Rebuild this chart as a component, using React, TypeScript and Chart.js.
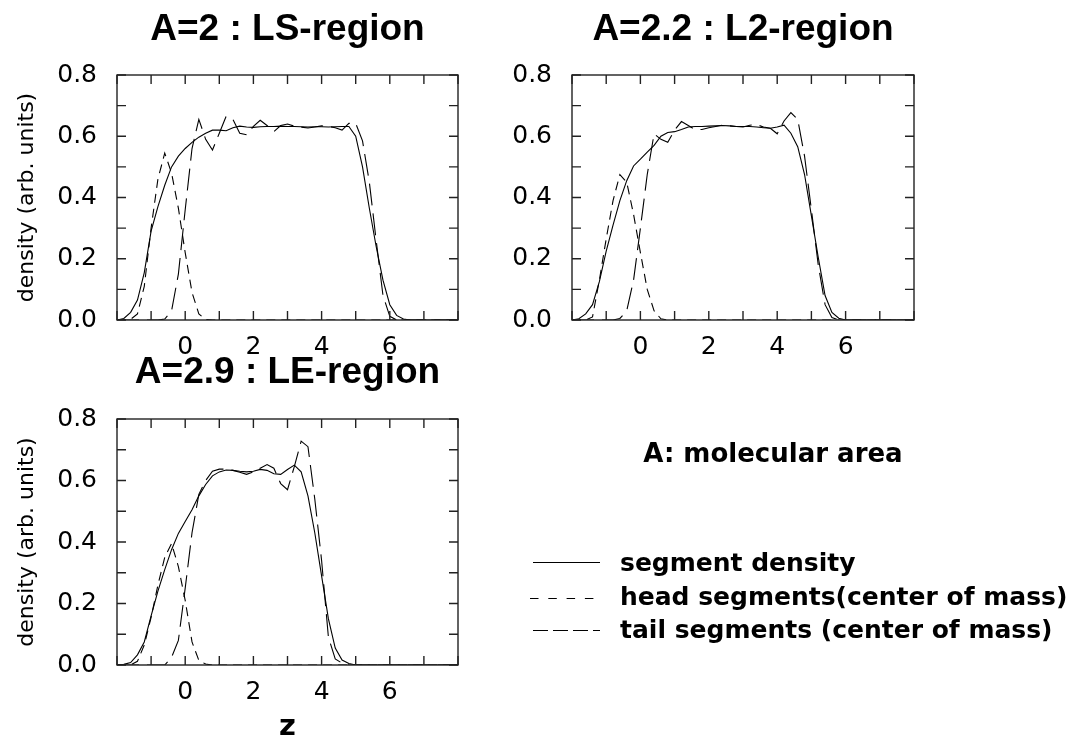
import React, { useEffect, useRef } from 'react';
import { Chart, registerables } from 'chart.js';

Chart.register(...registerables);

// z positions (shared by all curves)
const Z = [
  -2, -1.8, -1.6, -1.4, -1.2, -1, -0.8, -0.6, -0.4, -0.2,
  0, 0.2, 0.4, 0.6, 0.8, 1, 1.2, 1.4, 1.6, 1.8,
  2, 2.2, 2.4, 2.6, 2.8, 3, 3.2, 3.4, 3.6, 3.8,
  4, 4.2, 4.4, 4.6, 4.8, 5, 5.2, 5.4, 5.6, 5.8,
  6, 6.2, 6.4, 6.6, 6.8, 7, 7.2, 7.4, 7.6, 7.8,
  8,
];

// A=2 : LS-region
const SEG_LS = [
  0, 0.005, 0.025, 0.065, 0.155, 0.29, 0.37, 0.44, 0.5, 0.535,
  0.56, 0.58, 0.597, 0.61, 0.62, 0.62, 0.618, 0.628, 0.633, 0.63,
  0.629, 0.631, 0.632, 0.632, 0.633, 0.632, 0.632, 0.631, 0.63, 0.631,
  0.631, 0.63, 0.631, 0.632, 0.632, 0.6, 0.5, 0.365, 0.24, 0.13,
  0.05, 0.015, 0.003, 0, 0, 0, 0, 0, 0, 0,
  0,
];
const HEAD_LS = [
  0, 0, 0.002, 0.02, 0.11, 0.3, 0.46, 0.545, 0.48, 0.365,
  0.22, 0.09, 0.02, 0.002, 0, 0, 0, 0, 0, 0,
  0, 0, 0, 0, 0, 0, 0, 0, 0, 0,
  0, 0, 0, 0, 0, 0, 0, 0, 0, 0,
  0, 0, 0, 0, 0, 0, 0, 0, 0, 0,
  0,
];
const TAIL_LS = [
  0, 0, 0, 0, 0, 0, 0, 0.003, 0.03, 0.15,
  0.36, 0.56, 0.655, 0.59, 0.555, 0.61, 0.665, 0.655, 0.61, 0.605,
  0.632, 0.652, 0.635, 0.615, 0.635, 0.64, 0.633, 0.63, 0.627, 0.63,
  0.634, 0.632, 0.628, 0.62, 0.642, 0.642, 0.585, 0.45, 0.26, 0.08,
  0.012, 0, 0, 0, 0, 0, 0, 0, 0, 0,
  0,
];

// A=2.2 : L2-region
const SEG_L2 = [
  0, 0.004, 0.02, 0.05, 0.125, 0.225, 0.31, 0.39, 0.455, 0.503,
  0.525, 0.548, 0.57, 0.6, 0.612, 0.615, 0.622, 0.63, 0.632, 0.632,
  0.633, 0.634, 0.635, 0.634, 0.632, 0.632, 0.632, 0.63, 0.628, 0.626,
  0.63, 0.636, 0.61, 0.566, 0.475, 0.34, 0.205, 0.08, 0.025, 0.006,
  0, 0, 0, 0, 0, 0, 0, 0, 0, 0,
  0,
];
const HEAD_L2 = [
  0, 0, 0, 0.01, 0.13, 0.265, 0.39, 0.475, 0.45, 0.345,
  0.22, 0.1, 0.03, 0.004, 0, 0, 0, 0, 0, 0,
  0, 0, 0, 0, 0, 0, 0, 0, 0, 0,
  0, 0, 0, 0, 0, 0, 0, 0, 0, 0,
  0, 0, 0, 0, 0, 0, 0, 0, 0, 0,
  0,
];
const TAIL_L2 = [
  0, 0, 0, 0, 0, 0, 0, 0.005, 0.03, 0.13,
  0.3, 0.475, 0.608, 0.59, 0.58, 0.62, 0.648, 0.635, 0.622, 0.622,
  0.628, 0.632, 0.636, 0.634, 0.632, 0.63, 0.636, 0.638, 0.63, 0.626,
  0.608, 0.65, 0.677, 0.655, 0.535, 0.36, 0.18, 0.05, 0.008, 0,
  0, 0, 0, 0, 0, 0, 0, 0, 0, 0,
  0,
];

// A=2.9 : LE-region
const SEG_LE = [
  0, 0.002, 0.008, 0.033, 0.075, 0.16, 0.24, 0.31, 0.375, 0.428,
  0.467, 0.505, 0.55, 0.587, 0.615, 0.628, 0.634, 0.633, 0.63, 0.628,
  0.63, 0.636, 0.633, 0.622, 0.62, 0.636, 0.65, 0.628, 0.55, 0.43,
  0.29, 0.15, 0.055, 0.016, 0.005, 0, 0, 0, 0, 0,
  0, 0, 0, 0, 0, 0, 0, 0, 0, 0,
  0,
];
const HEAD_LE = [
  0, 0, 0, 0.012, 0.065, 0.155, 0.26, 0.35, 0.395, 0.32,
  0.21, 0.075, 0.015, 0.003, 0, 0, 0, 0, 0, 0,
  0, 0, 0, 0, 0, 0, 0, 0, 0, 0,
  0, 0, 0, 0, 0, 0, 0, 0, 0, 0,
  0, 0, 0, 0, 0, 0, 0, 0, 0, 0,
  0,
];
const TAIL_LE = [
  0, 0, 0, 0, 0, 0, 0, 0, 0.025, 0.08,
  0.25, 0.43, 0.555, 0.6, 0.63, 0.637, 0.637, 0.633, 0.627, 0.62,
  0.628, 0.64, 0.652, 0.64, 0.59, 0.57, 0.645, 0.728, 0.71, 0.54,
  0.34, 0.09, 0.02, 0.006, 0, 0, 0, 0, 0, 0,
  0, 0, 0, 0, 0, 0, 0, 0, 0, 0,
  0,
];

const X_LABELS = ['0', '2', '4', '6'];
const Y_LABELS = ['0.0', '0.2', '0.4', '0.6', '0.8'];
const TITLES = ['A=2 : LS-region', 'A=2.2 : L2-region', 'A=2.9 : LE-region'];
const Y_TITLE = 'density (arb. units)';
const X_TITLE = 'z';
const NOTE = 'A: molecular area';
const LEGEND = ['segment density', 'head segments(center of mass)', 'tail segments (center of mass)'];

const framePlugin = {
  id: 'frame',
  afterDatasetsDraw(chart: any) {
    const { ctx, chartArea: a, scales } = chart;
    const xs = scales.x;
    const ys = scales.y;
    const L = 9;
    ctx.save();
    ctx.strokeStyle = '#222';
    ctx.lineWidth = 1.4;
    ctx.beginPath();
    for (const t of xs.ticks) {
      const p = xs.getPixelForValue(t.value);
      ctx.moveTo(p, a.bottom);
      ctx.lineTo(p, a.bottom - L);
      ctx.moveTo(p, a.top);
      ctx.lineTo(p, a.top + L);
    }
    for (const t of ys.ticks) {
      const p = ys.getPixelForValue(t.value);
      ctx.moveTo(a.left, p);
      ctx.lineTo(a.left + L, p);
      ctx.moveTo(a.right, p);
      ctx.lineTo(a.right - L, p);
    }
    ctx.stroke();
    ctx.strokeRect(a.left, a.top, a.right - a.left, a.bottom - a.top);
    ctx.restore();
  },
};

type PanelProps = {
  left: number;
  top: number;
  width: number;
  height: number;
  areaL: number;
  areaT: number;
  areaR: number;
  areaB: number;
  titleY: number;
  title: string;
  seg: number[];
  head: number[];
  tail: number[];
  yTitle: boolean;
  xTitle: boolean;
};

function Panel(p: PanelProps) {
  const ref = useRef<HTMLCanvasElement>(null);
  useEffect(() => {
    const yW = p.areaL - p.left;
    const xH = p.top + p.height - p.areaB;
    const padRight = p.left + p.width - p.areaR;
    const tFont = 37;
    const tPadTop = p.titleY - p.top - tFont / 2;
    const tPadBottom = p.areaT - p.top - tPadTop - tFont;
    const mk = (vals: number[]) => Z.map((z, i) => ({ x: z, y: vals[i] }));
    const tickFont = { family: 'DejaVu Sans', size: 25, lineHeight: 1.2 };
    const chart = new Chart(ref.current as HTMLCanvasElement, {
      type: 'line',
      data: {
        datasets: [
          { label: LEGEND[0], data: mk(p.seg), borderColor: '#000', borderWidth: 1.1, pointRadius: 0, tension: 0, fill: false },
          { label: LEGEND[1], data: mk(p.head), borderColor: '#000', borderWidth: 1.1, pointRadius: 0, tension: 0, fill: false, borderDash: [9, 6] },
          { label: LEGEND[2], data: mk(p.tail), borderColor: '#000', borderWidth: 1.1, pointRadius: 0, tension: 0, fill: false, borderDash: [22, 8] },
        ],
      },
      options: {
        responsive: false,
        animation: false,
        events: [],
        layout: { padding: { left: 0, right: padRight, top: 0, bottom: 0 } },
        plugins: {
          legend: { display: false },
          tooltip: { enabled: false },
          title: {
            display: true,
            text: p.title,
            fullSize: false,
            color: '#000',
            font: { family: 'Liberation Sans', weight: 'bold', size: tFont, lineHeight: 1 },
            padding: { top: tPadTop, bottom: tPadBottom },
          },
        },
        scales: {
          x: {
            type: 'linear',
            min: -2,
            max: 8,
            ticks: {
              stepSize: 1,
              autoSkip: false,
              maxRotation: 0,
              padding: 12,
              color: '#000',
              font: tickFont,
              callback: (v: any) => (X_LABELS.includes(String(v)) ? String(v) : ''),
            },
            grid: { display: false, drawTicks: false },
            border: { display: false },
            title: {
              display: p.xTitle,
              text: X_TITLE,
              color: '#000',
              font: { family: 'DejaVu Sans', weight: 'bold', size: 29, lineHeight: 1 },
              padding: { top: 0, bottom: 1 },
            },
            afterFit: (s: any) => {
              s.height = xH;
            },
          },
          y: {
            type: 'linear',
            min: 0,
            max: 0.8,
            ticks: {
              stepSize: 0.1,
              autoSkip: false,
              padding: 20,
              color: '#000',
              font: tickFont,
              callback: (v: any) => {
                const s = Number(v).toFixed(1);
                return Y_LABELS.includes(s) ? s : '';
              },
            },
            grid: { display: false, drawTicks: false },
            border: { display: false },
            title: {
              display: p.yTitle,
              text: Y_TITLE,
              color: '#000',
              font: { family: 'DejaVu Sans', size: 22, lineHeight: 1.2 },
              padding: { top: 14, bottom: 0 },
            },
            afterFit: (s: any) => {
              s.width = yW;
            },
          },
        },
      } as any,
      plugins: [framePlugin],
    });
    return () => chart.destroy();
  }, []);
  return (
    <canvas
      ref={ref}
      width={p.width}
      height={p.height}
      style={{ position: 'absolute', left: p.left, top: p.top, width: p.width, height: p.height }}
    />
  );
}

export default function App() {
  const txt = { fontFamily: 'DejaVu Sans', fontWeight: 'bold' as const, fill: '#000' };
  return (
    <div style={{ position: 'fixed', left: 0, top: 0, width: 1071, height: 743, background: '#fff', overflow: 'hidden' }}>
      <Panel left={0} top={0} width={480} height={364} areaL={117} areaT={75} areaR={458} areaB={320} titleY={30}
        title={TITLES[0]} seg={SEG_LS} head={HEAD_LS} tail={TAIL_LS} yTitle={true} xTitle={false} />
      <Panel left={480} top={0} width={480} height={364} areaL={572} areaT={75} areaR={914} areaB={320} titleY={30}
        title={TITLES[1]} seg={SEG_L2} head={HEAD_L2} tail={TAIL_L2} yTitle={false} xTitle={false} />
      <Panel left={0} top={330} width={480} height={413} areaL={117} areaT={419} areaR={458} areaB={665} titleY={373}
        title={TITLES[2]} seg={SEG_LE} head={HEAD_LE} tail={TAIL_LE} yTitle={true} xTitle={true} />
      <svg width={1071} height={743} style={{ position: 'absolute', left: 0, top: 0 }}>
        <text x={773} y={462} textAnchor="middle" fontSize={26} {...txt}>{NOTE}</text>
        <line x1={533} x2={600} y1={562.5} y2={562.5} stroke="#000" strokeWidth={1.2} />
        <line x1={530} x2={600} y1={598.5} y2={598.5} stroke="#000" strokeWidth={1.2} strokeDasharray="8.5 9.8" />
        <line x1={533} x2={600} y1={630.5} y2={630.5} stroke="#000" strokeWidth={1.2} strokeDasharray="15 5" />
        <text x={620} y={571} fontSize={25} {...txt}>{LEGEND[0]}</text>
        <text x={620} y={605} fontSize={25} {...txt}>{LEGEND[1]}</text>
        <text x={620} y={638} fontSize={25} {...txt}>{LEGEND[2]}</text>
      </svg>
    </div>
  );
}
